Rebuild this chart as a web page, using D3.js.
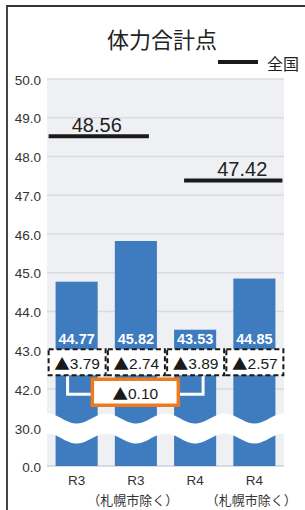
<!DOCTYPE html>
<meta charset="utf-8">
<style>
body { margin: 0; background: #fff; }
svg { display: block; font-family: "Liberation Sans", Arial, "Noto Sans CJK JP", sans-serif; }
.cjk { font-family: "Noto Sans CJK JP", sans-serif; }
</style>
<body>
<script src="https://cdn.jsdelivr.net/npm/d3@7"></script>
<script>
'use strict';

// data
const categories = ["R3", "R3", "R4", "R4"];
const subLabels  = ["", "（札幌市除く）", "", "（札幌市除く）"];
const values     = [44.77, 45.82, 43.53, 44.85];
const diffs      = [3.79, 2.74, 3.89, 2.57];
const national   = [48.56, 47.42];           // R3 line over bars 0-1, R4 over bars 2-3
const nationalBars = [[0, 1], [2, 3]];
const tickValues = [50, 49, 48, 47, 46, 45, 44, 43, 42, 30, 0];
const gapDiff    = 0.10;                     // R3 vs R4 difference

const W = 305, H = 510;
const plot = {left: 47, right: 284, top: 79, bottom: 466};

const svg = d3.select("body").append("svg")
    .attr("width", W).attr("height", H);

// frame
svg.append("path")
    .attr("d", "M7," + H + "V6H" + W)
    .attr("fill", "none").attr("stroke", "#333").attr("stroke-width", 1.8);

// broken axis: piecewise linear
const y = d3.scaleLinear()
    .domain([0, 30, 42, 50])
    .range([plot.bottom, 428, 389, plot.top]);

const x = d3.scaleBand()
    .domain(d3.range(categories.length))
    .range([plot.left, plot.right])
    .paddingInner(0.29).paddingOuter(0.145);
const bw = x.bandwidth();

svg.append("text")
    .attr("class", "cjk")
    .attr("x", 162).attr("y", 38)
    .attr("text-anchor", "middle").attr("dominant-baseline", "central")
    .attr("font-size", 22).attr("fill", "#222")
    .text("体力合計点");

// legend
svg.append("line").attr("x1", 218).attr("x2", 258).attr("y1", 62).attr("y2", 62)
    .attr("stroke", "#1a1a1a").attr("stroke-width", 4);
svg.append("text").attr("class", "cjk")
    .attr("x", 267).attr("y", 63).attr("dominant-baseline", "central")
    .attr("font-size", 16).attr("fill", "#222").text("全国");

// plot background + grid
svg.append("rect")
    .attr("x", plot.left).attr("y", plot.top)
    .attr("width", plot.right - plot.left).attr("height", plot.bottom - plot.top)
    .attr("fill", "#eff0f3");

svg.append("g").selectAll("line")
    .data(tickValues).join("line")
    .attr("x1", plot.left).attr("x2", plot.right)
    .attr("y1", d => y(d)).attr("y2", d => y(d))
    .attr("stroke", d => d === 0 ? "#cfd0d4" : "#dadbdf").attr("stroke-width", 1.5);

svg.append("g").selectAll("text")
    .data(tickValues).join("text")
    .attr("x", 41).attr("y", d => y(d) + 1)
    .attr("text-anchor", "end").attr("dominant-baseline", "central")
    .attr("font-size", 13.5).attr("fill", "#333")
    .text(d => d.toFixed(1));

// bars
svg.append("g").selectAll("rect")
    .data(values).join("rect")
    .attr("x", (d, i) => x(i)).attr("width", bw)
    .attr("y", d => y(d)).attr("height", d => y(0) - y(d))
    .attr("fill", "#3e7bbf");

// axis break wave
const step = x.step();
const c0 = x(0) + bw / 2;
const xs = d3.range(plot.left, plot.right + 0.5, 1);
const mid = xx => y(30) + 0.5 + 5 * Math.cos(2 * Math.PI * (xx - c0) / step);
svg.append("path")
    .datum(xs)
    .attr("d", d3.area().x(d => d).y0(d => mid(d) - 10).y1(d => mid(d) + 10))
    .attr("fill", "#fff");

// national average lines
const lineOff = [[-7, -8], [10, 7]];
const labelDx = [-2, 9];
national.forEach((v, k) => {
  const [a, b] = nationalBars[k];
  const x1 = x(a) + lineOff[k][0], x2 = x(b) + bw + lineOff[k][1];
  const yy = y(v) + 1.5;
  svg.append("line").attr("x1", x1).attr("x2", x2).attr("y1", yy).attr("y2", yy)
      .attr("stroke", "#1a1a1a").attr("stroke-width", 4);
  svg.append("text")
      .attr("x", (x1 + x2) / 2 + labelDx[k]).attr("y", yy - 4)
      .attr("text-anchor", "middle").attr("font-size", 20).attr("fill", "#222")
      .text(v.toFixed(2));
});

// value labels inside bars
svg.append("g").selectAll("text")
    .data(values).join("text")
    .attr("x", (d, i) => x(i) + bw / 2).attr("y", y(43) - 11)
    .attr("text-anchor", "middle").attr("dominant-baseline", "central")
    .attr("font-size", 14.5).attr("font-weight", "bold").attr("fill", "#fff")
    .text(d => d.toFixed(2));

// bracket between R3 and R4
const boxY = y(43) - 1, boxH = 26;
const by = boxY + boxH + 19;
const bxL = x(0) + 12, bxR = x(2) + 29;
svg.append("path")
    .attr("d", `M${bxL},${boxY + boxH}V${by}H${bxR}V${boxY + boxH}`)
    .attr("fill", "none").attr("stroke", "#fff").attr("stroke-width", 3);

// triangle + number as one label
function tri(sel, v) {
  sel.append("tspan").attr("class", "cjk").text("▲");
  sel.append("tspan").text(v.toFixed(2));
}

// difference boxes
const dg = svg.append("g").selectAll("g")
    .data(diffs).join("g");
dg.append("rect")
    .attr("x", (d, i) => x(i) + bw / 2 - 28).attr("y", boxY)
    .attr("width", 57).attr("height", boxH)
    .attr("fill", "#fff").attr("stroke", "#1a1a1a").attr("stroke-width", 2)
    .attr("stroke-dasharray", "5,3");
dg.append("text")
    .attr("x", (d, i) => x(i) + bw / 2 + 0.5).attr("y", boxY + boxH / 2 + 1)
    .attr("text-anchor", "middle").attr("dominant-baseline", "central")
    .attr("font-size", 15.5).attr("fill", "#1a1a1a")
    .each(function(d) { tri(d3.select(this), d); });

// R3 vs R4 gap box
const gx = (bxL + bxR) / 2;
svg.append("rect")
    .attr("x", gx - 43).attr("y", by - 15).attr("width", 86).attr("height", 26)
    .attr("fill", "#fff").attr("stroke", "#ec7a1e").attr("stroke-width", 3.5);
svg.append("text")
    .attr("x", gx).attr("y", by - 1)
    .attr("text-anchor", "middle").attr("dominant-baseline", "central")
    .attr("font-size", 15.5).attr("fill", "#1a1a1a")
    .call(tri, gapDiff);

// category labels
svg.append("g").selectAll("text")
    .data(categories).join("text")
    .attr("x", (d, i) => x(i) + bw / 2).attr("y", 480)
    .attr("text-anchor", "middle").attr("dominant-baseline", "central")
    .attr("font-size", 13.5).attr("fill", "#333").text(d => d);
svg.append("g").selectAll("text")
    .data(subLabels).join("text")
    .attr("class", "cjk")
    .attr("x", (d, i) => x(i) + bw / 2 - 3).attr("y", 499)
    .attr("text-anchor", "middle").attr("dominant-baseline", "central")
    .attr("font-size", 13).attr("fill", "#333").text(d => d);
</script>
</body>
